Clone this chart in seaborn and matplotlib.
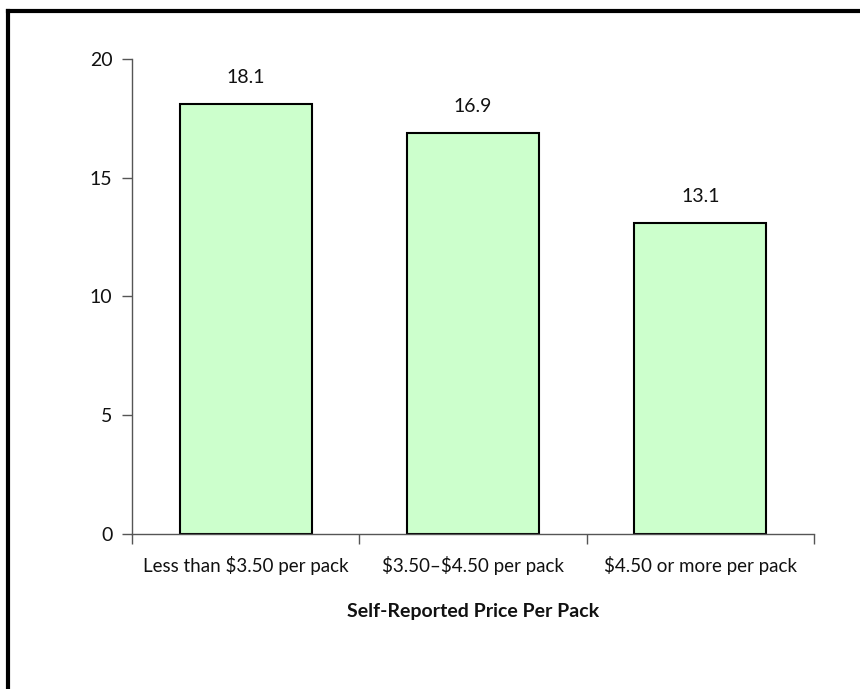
import pandas as pd
import seaborn as sns
import matplotlib.pyplot as plt
from matplotlib.lines import Line2D
from matplotlib.ticker import FixedLocator

# data
categories = ["Less than $3.50 per pack", "$3.50\u2013$4.50 per pack", "$4.50 or more per pack"]
values = [18.1, 16.9, 13.1]
y_ticks = [0, 5, 10, 15, 20]
x_title = "Self-Reported Price Per Pack"

df = pd.DataFrame({"price": categories, "value": values})

sns.set_style("ticks")
plt.rcParams["font.family"] = ["Lato", "DejaVu Sans"]
plt.rcParams["text.parse_math"] = False  # keep the dollar signs literal
plt.rcParams["text.color"] = "#111111"
plt.rcParams["xtick.labelcolor"] = "#111111"
plt.rcParams["ytick.labelcolor"] = "#111111"

fig = plt.figure(figsize=(8.6, 6.89), dpi=100)
ax = fig.add_axes([0.1535, 0.225, 0.793, 0.6894])

sns.barplot(data=df, x="price", y="value", color="#CCFFCC", saturation=1,
            width=0.58, edgecolor="black", linewidth=1.5, ax=ax)

# value labels above bars
for i, v in enumerate(values):
    ax.annotate(f"{v:.1f}", (i, v), xytext=(0, 13), textcoords="offset points",
                ha="center", va="bottom", fontsize=14)

ax.set_ylim(0, 20)
ax.set_xlim(-0.5, len(categories) - 0.5)
ax.set_yticks(y_ticks)
ax.set_ylabel("")
ax.set_xlabel(x_title, fontsize=14, fontweight="bold", labelpad=20, color="#111111")

# x ticks at the category boundaries, labels centred under bars
ax.tick_params(axis="x", which="major", length=0, labelsize=13.5, pad=16)
ax.xaxis.set_minor_locator(FixedLocator([-0.5, 0.5, 1.5, 2.5]))
ax.tick_params(axis="x", which="minor", length=7, width=1, color="#555555", direction="out")
ax.tick_params(axis="y", length=7, width=1, color="#555555", labelsize=14, pad=7)

for s in ["top", "right"]:
    ax.spines[s].set_visible(False)
ax.spines["left"].set_color("#555555")
ax.spines["bottom"].set_color("#555555")
ax.spines["left"].set_linewidth(1)
ax.spines["bottom"].set_linewidth(1)

# black frame on top and left edge of the figure
fig.add_artist(Line2D([8 / 860, 8 / 860], [0, (689 - 11) / 689], transform=fig.transFigure,
                      color="black", linewidth=3.0, solid_capstyle="projecting"))
fig.add_artist(Line2D([8 / 860, 1.0], [(689 - 11) / 689, (689 - 11) / 689], transform=fig.transFigure,
                      color="black", linewidth=3.0, solid_capstyle="projecting"))

plt.savefig("out.png", dpi=100)
